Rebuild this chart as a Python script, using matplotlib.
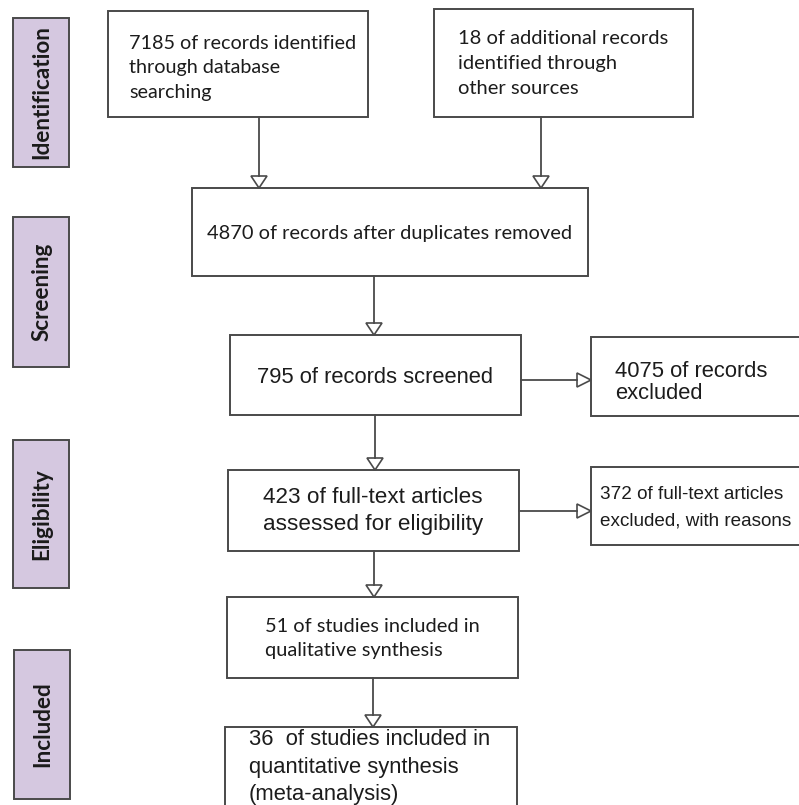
import matplotlib
matplotlib.use("Agg")
import matplotlib.pyplot as plt
from matplotlib.patches import Rectangle, Polygon

# counts shown in the flow diagram
n_database = 7185
n_other = 18
n_after_dup = 4870
n_screened = 795
n_excluded = 4075
n_fulltext = 423
n_fulltext_excl = 372
n_qualitative = 51
n_quantitative = 36

stages = ["Identification", "Screening", "Eligibility", "Included"]

CALIBRI = ["Lato", "DejaVu Sans"]
ARIAL = ["Liberation Sans", "DejaVu Sans"]

fig = plt.figure(figsize=(7.99, 8.05), dpi=100)
ax = fig.add_axes([0, 0, 1, 1])
ax.set_xlim(0, 799)
ax.set_ylim(805, 0)
ax.axis("off")
renderer = fig.canvas.get_renderer()

edge = "#4a4a4a"


def box(x0, y0, x1, y1, fc="white"):
    ax.add_patch(Rectangle((x0, y0), x1 - x0, y1 - y0, fc=fc, ec=edge, lw=1.4))


def text_w(txt, family, weight="normal"):
    t = ax.text(0, 0, txt, fontsize=10, family=family, fontweight=weight)
    w = t.get_window_extent(renderer).width
    t.remove()
    return w


def lines(x, baselines, texts, family, widest_w, color="#1c1c1c"):
    size = 10 * widest_w / max(text_w(s, family) for s in texts)
    for yb, s in zip(baselines, texts):
        ax.text(x, yb, s, fontsize=size, family=family, color=color,
                ha="left", va="baseline")


def arrow_down(x, y0, y1):
    ax.plot([x, x], [y0, y1 - 12], color=edge, lw=1.3)
    ax.add_patch(Polygon([[x - 8, y1 - 12], [x + 8, y1 - 12], [x, y1]],
                         closed=True, fc="white", ec=edge, lw=1.2))


def arrow_right(y, x0, x1):
    ax.plot([x0, x1 - 14], [y, y], color=edge, lw=1.3)
    ax.add_patch(Polygon([[x1 - 14, y - 7], [x1 - 14, y + 7], [x1, y]],
                         closed=True, fc="white", ec=edge, lw=1.2))


# stage labels on the left
stage_boxes = [(13, 18, 69, 167), (13, 217, 69, 367), (13, 440, 69, 588), (14, 650, 70, 799)]
label_size = 10 * 134 / text_w(stages[0], CALIBRI, weight="bold")
for name, (x0, y0, x1, y1) in zip(stages, stage_boxes):
    box(x0, y0, x1, y1, fc="#d5c8e0")
    ax.text((x0 + x1) / 2 + 1, (y0 + y1) / 2, name, rotation=90, fontsize=label_size,
            family=CALIBRI, fontweight="bold", color="#1a1a1a", ha="center", va="center")

# boxes
box(108, 11, 368, 117)
box(434, 9, 693, 117)
box(192, 188, 588, 276)
box(230, 335, 521, 415)
box(591, 337, 810, 416)
box(228, 470, 519, 551)
box(591, 467, 810, 545)
box(227, 597, 518, 678)
box(225, 727, 517, 820)

# arrows
arrow_down(259, 117, 188)
arrow_down(541, 117, 188)
arrow_down(374, 276, 335)
arrow_right(380, 521, 591)
arrow_down(375, 415, 470)
arrow_right(511, 519, 591)
arrow_down(374, 551, 597)
arrow_down(373, 678, 727)

# texts
lines(129, [49, 73, 98],
      [f"{n_database} of records identified", "through database", "searching"],
      CALIBRI, 228)
lines(458, [44, 69, 94],
      [f"{n_other} of additional records", "identified through", "other sources"],
      CALIBRI, 211)
lines(207, [239],
      [f"{n_after_dup} of records after duplicates removed"], CALIBRI, 367)
lines(257, [383],
      [f"{n_screened} of records screened"], ARIAL, 238)
lines(615, [377, 399],
      [f"{n_excluded} of records", "excluded"], ARIAL, 154)
lines(263, [503, 530],
      [f"{n_fulltext} of full-text articles", "assessed for eligibility"], ARIAL, 220)
lines(600, [499, 525],
      [f"{n_fulltext_excl} of full-text articles", "excluded, with reasons"], ARIAL, 193)
lines(265, [632, 656],
      [f"{n_qualitative} of studies included in", "qualitative synthesis"], CALIBRI, 216)
lines(249, [745, 773, 800],
      [f"{n_quantitative}  of studies included in", "quantitative synthesis", "(meta-analysis)"],
      ARIAL, 243)

fig.savefig("out.png", dpi=100, facecolor="white")
